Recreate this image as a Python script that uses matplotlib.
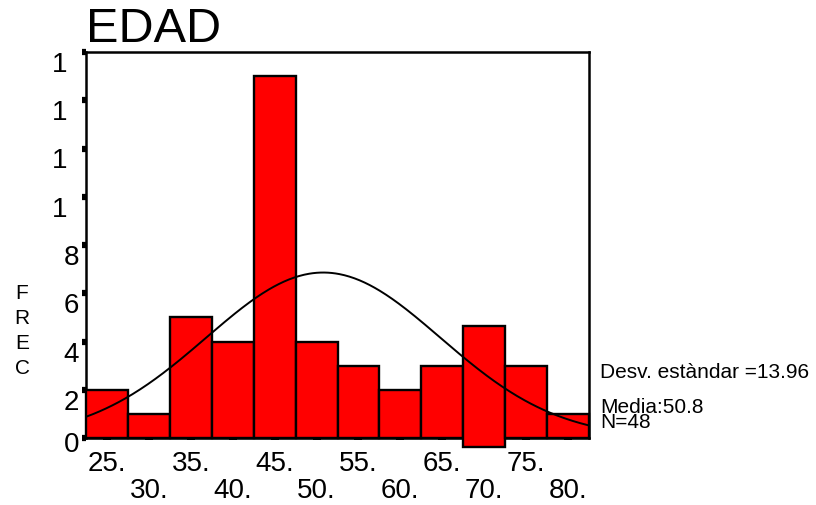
import numpy as np
import matplotlib
matplotlib.use("Agg")
import matplotlib.pyplot as plt
from matplotlib.transforms import ScaledTranslation

# ---- data ----
bin_centers = [25, 30, 35, 40, 45, 50, 55, 60, 65, 70, 75, 80]
counts = [2, 1, 5, 4, 15, 4, 3, 2, 3, 5, 3, 1]
bin_width = 5
mean_val = 50.8
std_val = 13.96
n_val = 48
y_ticks = [0, 2, 4, 6, 8, 10, 12, 14, 16]
y_tick_labels = ["0", "2", "4", "6", "8", "1", "1", "1", "1"]
x_row1 = [25, 35, 45, 55, 65, 75]
x_row2 = [30, 40, 50, 60, 70, 80]
x_row1_labels = ["25.", "35.", "45.", "55.", "65.", "75."]
x_row2_labels = ["30.", "40.", "50.", "60.", "70.", "80."]
# display glitch in the original: one bar is drawn shifted slightly downward
bar_shift = [0, 0, 0, 0, 0, 0, 0, 0, 0, -0.37, 0, 0]

plt.rcParams['font.family'] = ['Liberation Sans', 'DejaVu Sans']

fig = plt.figure(figsize=(8.16, 5.05), dpi=100)
ax = fig.add_axes([86/816, 1-438/505, 503/816, 386/505])

bars = ax.bar(bin_centers, counts, width=bin_width, bottom=bar_shift,
              color='#ff0000', edgecolor='black', linewidth=1.7, zorder=3)
for b in bars:
    b.set_clip_on(False)

xs = np.linspace(22.5, 82.5, 400)
ys = n_val * bin_width / (std_val * np.sqrt(2*np.pi)) * np.exp(-0.5*((xs-mean_val)/std_val)**2)
ax.plot(xs, ys, color='black', linewidth=1.4, zorder=4)

ax.set_xlim(22.5, 82.5)
ax.set_ylim(0, 16)

for s in ax.spines.values():
    s.set_linewidth(1.8)
    s.set_color('black')

ax.set_yticks(y_ticks, y_tick_labels, fontsize=20)
ax.tick_params(axis='y', direction='out', length=3, width=4.5, pad=2, colors='black')
for v, lab in zip(y_ticks, ax.get_yticklabels()):
    dy = -0.04 if v == 0 else -0.10
    dx = -0.12 if v >= 10 else 0.0
    lab.set_transform(lab.get_transform() + ScaledTranslation(dx, dy, fig.dpi_scale_trans))

ax.set_xticks(x_row1, x_row1_labels, fontsize=20)
ax.set_xticks(x_row2, x_row2_labels, minor=True, fontsize=20)
ax.tick_params(axis='x', which='both', direction='out', length=1.5, width=5.8, colors='black')
ax.tick_params(axis='x', which='major', pad=8)
ax.tick_params(axis='x', which='minor', pad=27.5)

ax.set_title("EDAD", loc='left', fontsize=35, pad=5)

ax.set_ylabel("F\nR\nE\nC", rotation=0, fontsize=15, linespacing=1.4,
              ha='center', va='center')
ax.yaxis.set_label_coords(-0.127, 0.277)

fig.text(600/816, 1-378/505, "Desv. estàndar =13.96", fontsize=15, va='baseline')
fig.text(600/816, 1-413/505, "Media:50.8", fontsize=15, va='baseline')
fig.text(600/816, 1-428/505, "N=48", fontsize=15, va='baseline')

fig.savefig("out.png", dpi=100)
